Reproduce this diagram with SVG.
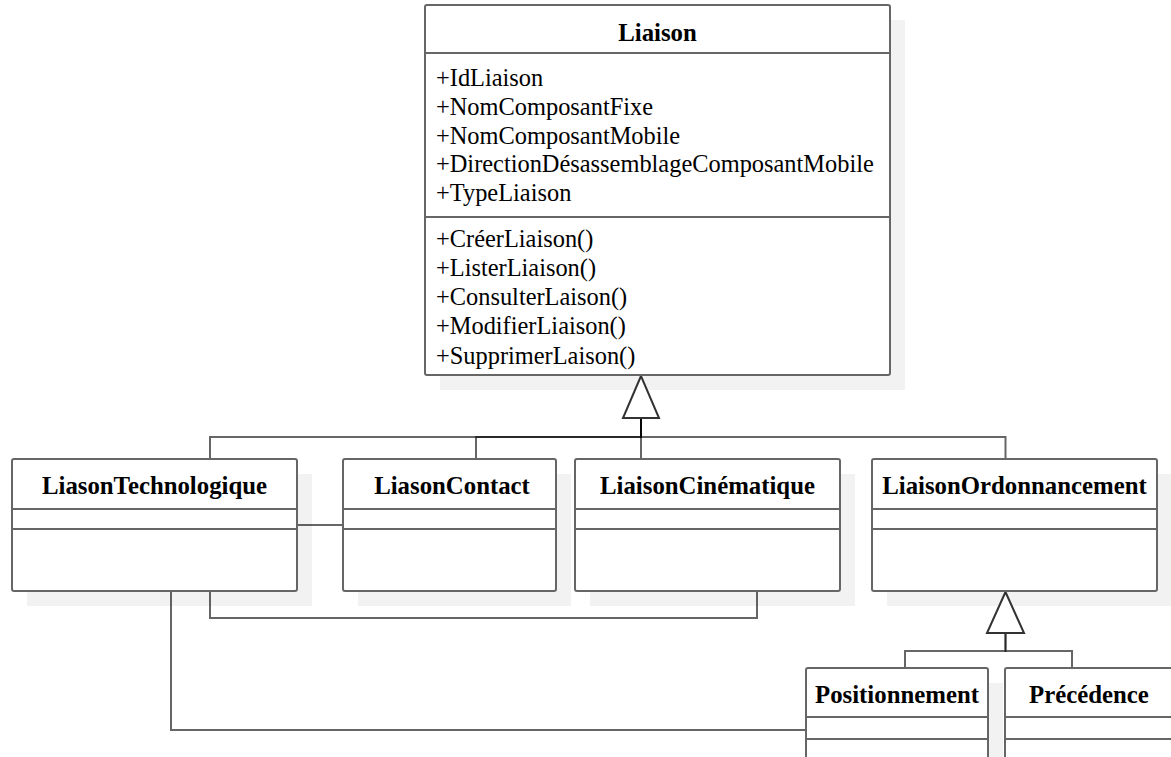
<svg xmlns="http://www.w3.org/2000/svg" width="1171" height="757" viewBox="0 0 1171 757">
<style>
.sh{fill:#f2f2f2;stroke:none}
.box{fill:#fff;stroke:#666;stroke-width:2}
.sep{stroke:#666;stroke-width:2}
.t{font-family:"Liberation Serif","Times New Roman",serif;font-size:24.4px;fill:#000}
.b{font-weight:bold;text-anchor:middle;font-size:24.8px}
.c{fill:none;stroke:#000;stroke-opacity:0.6;stroke-width:2}
.tri{fill:#fff;stroke:#333;stroke-width:2;stroke-linejoin:miter}
</style>
<rect width="1171" height="757" fill="#fff"/>
<g id="shadows">
<rect class="sh" x="440" y="20" width="465" height="370"/>
<rect class="sh" x="27" y="474" width="285" height="132"/>
<rect class="sh" x="358" y="474" width="213" height="132"/>
<rect class="sh" x="590" y="474" width="265" height="132"/>
<rect class="sh" x="887" y="474" width="285" height="132"/>
<rect class="sh" x="821" y="683" width="182" height="120"/>
<rect class="sh" x="1020" y="683" width="168" height="120"/>
</g>
<g id="connectors">
<path class="c" d="M210 459 V437 H641 V418"/>
<path class="c" d="M476 459 V437 H641 V418"/>
<path class="c" d="M641 459 V418"/>
<path class="c" d="M1005.5 459 V437 H641 V418"/>
<polygon class="tri" points="641,376 623,418 659,418"/>
<path class="c" d="M297 525 H343"/>
<path class="c" d="M210 591 V618 H757 V591"/>
<path class="c" d="M171 591 V730 H806"/>
<path class="c" d="M905 668 V651 H1005.5 V633"/>
<path class="c" d="M1072 668 V651 H1005.5 V633"/>
<polygon class="tri" points="1005.5,592 987,633 1024,633"/>
</g>
<g id="Liaison">
<rect class="box" x="425" y="5" width="465" height="370" rx="2"/>
<line class="sep" x1="425" y1="53" x2="890" y2="53"/>
<line class="sep" x1="425" y1="217" x2="890" y2="217"/>
<text class="t b" x="657.5" y="41">Liaison</text>
<text class="t" x="436" y="86">+IdLiaison</text>
<text class="t" x="436" y="114.8">+NomComposantFixe</text>
<text class="t" x="436" y="143.6">+NomComposantMobile</text>
<text class="t" x="436" y="172.4">+DirectionDésassemblageComposantMobile</text>
<text class="t" x="436" y="201.2">+TypeLiaison</text>
<text class="t" x="436" y="247">+CréerLiaison()</text>
<text class="t" x="436" y="276">+ListerLiaison()</text>
<text class="t" x="436" y="305">+ConsulterLaison()</text>
<text class="t" x="436" y="334">+ModifierLiaison()</text>
<text class="t" x="436" y="363.5">+SupprimerLaison()</text>
</g>
<g id="LiasonTechnologique">
<rect class="box" x="12" y="459" width="285" height="132" rx="2"/>
<line class="sep" x1="12" y1="509" x2="297" y2="509"/>
<line class="sep" x1="12" y1="529" x2="297" y2="529"/>
<text class="t b" x="154.5" y="494">LiasonTechnologique</text>
</g>
<g id="LiasonContact">
<rect class="box" x="343" y="459" width="213" height="132" rx="2"/>
<line class="sep" x1="343" y1="509" x2="556" y2="509"/>
<line class="sep" x1="343" y1="529" x2="556" y2="529"/>
<text class="t b" x="452" y="494">LiasonContact</text>
</g>
<g id="LiaisonCinematique">
<rect class="box" x="575" y="459" width="265" height="132" rx="2"/>
<line class="sep" x1="575" y1="509" x2="840" y2="509"/>
<line class="sep" x1="575" y1="529" x2="840" y2="529"/>
<text class="t b" x="707.5" y="494">LiaisonCinématique</text>
</g>
<g id="LiaisonOrdonnancement">
<rect class="box" x="872" y="459" width="285" height="132" rx="2"/>
<line class="sep" x1="872" y1="509" x2="1157" y2="509"/>
<line class="sep" x1="872" y1="529" x2="1157" y2="529"/>
<text class="t b" x="1014.5" y="494">LiaisonOrdonnancement</text>
</g>
<g id="Positionnement">
<rect class="box" x="806" y="668" width="182" height="120" rx="2"/>
<line class="sep" x1="806" y1="717" x2="988" y2="717"/>
<line class="sep" x1="806" y1="739" x2="988" y2="739"/>
<text class="t b" x="897" y="703">Positionnement</text>
</g>
<g id="Precedence">
<rect class="box" x="1005" y="668" width="168" height="120" rx="2"/>
<line class="sep" x1="1005" y1="717" x2="1173" y2="717"/>
<line class="sep" x1="1005" y1="739" x2="1173" y2="739"/>
<text class="t b" x="1089" y="703">Précédence</text>
</g>
</svg>
